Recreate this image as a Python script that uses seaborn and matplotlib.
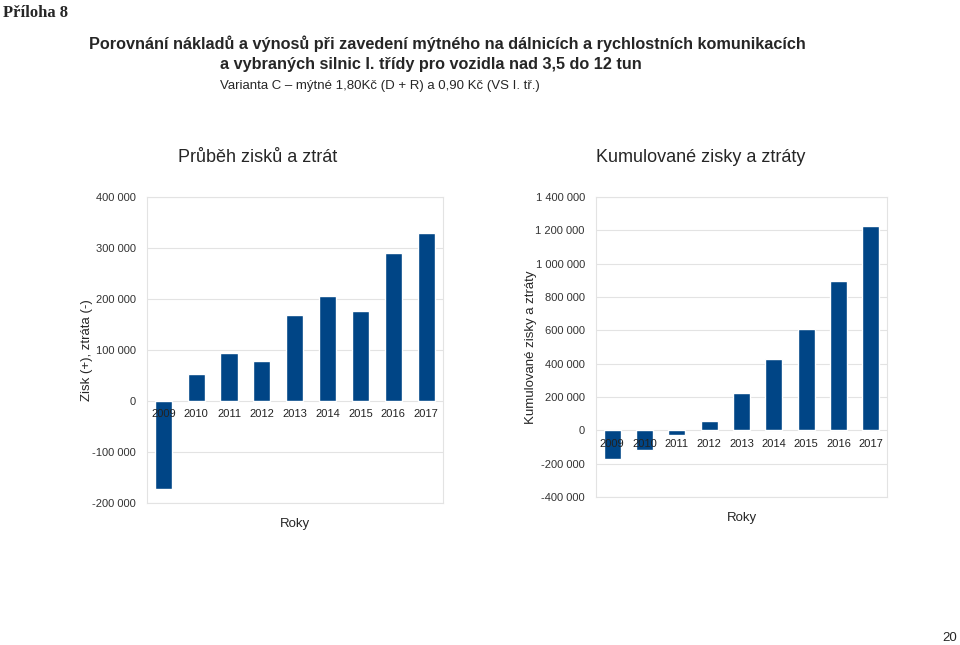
import matplotlib
matplotlib.use("Agg")
import matplotlib.pyplot as plt
import seaborn as sns
import pandas as pd

# data
years = ["2009", "2010", "2011", "2012", "2013", "2014", "2015", "2016", "2017"]
zisk = [-172500, 52300, 93500, 79100, 168600, 206500, 177100, 290200, 329400]
kumul = [-172000, -120000, -27000, 53000, 222000, 428000, 606000, 896000, 1226000]

left_ticks = [-200000, -100000, 0, 100000, 200000, 300000, 400000]
right_ticks = [-400000, -200000, 0, 200000, 400000, 600000, 800000, 1000000, 1200000, 1400000]

sns.set_style("white")
plt.rcParams["font.family"] = ["Liberation Sans", "DejaVu Sans"]

BLUE = "#004586"
GRID = "#e3e3e3"

fig = plt.figure(figsize=(9.6, 6.45), dpi=100)
ax1 = fig.add_axes([0.153, 0.2202, 0.308, 0.4744])
ax2 = fig.add_axes([0.6208, 0.2295, 0.3031, 0.4651])


def fmt(v):
    return f"{v:,}".replace(",", " ")


def draw(ax, vals, ticks, title, tx, ylabel):
    df = pd.DataFrame({"rok": years, "hodnota": vals})
    sns.barplot(data=df, x="rok", y="hodnota", color=BLUE, width=0.52,
                saturation=1, ax=ax, zorder=3)
    ax.set_ylim(ticks[0], ticks[-1])
    ax.set_xlim(-0.5, 8.5)
    ax.set_yticks(ticks)
    ax.set_yticklabels([fmt(t) for t in ticks], fontsize=8, color="#333333")
    ax.tick_params(axis="y", length=0, pad=8)
    ax.set_xticks([])
    ax.grid(axis="y", color=GRID, lw=0.8, zorder=0)
    for s in ax.spines.values():
        s.set_color(GRID)
        s.set_linewidth(0.8)
    # year labels sit on the zero line
    for i, y in enumerate(years):
        ax.annotate(y, (i, 0), xytext=(0, -6), textcoords="offset points",
                    ha="center", va="top", fontsize=8, color="#222222", zorder=5)
    ax.set_xlabel("Roky", fontsize=9.5, labelpad=11)
    ax.set_ylabel(ylabel, fontsize=9.5, labelpad=-1)
    ax.set_title(title, fontsize=13, pad=25, x=tx)


draw(ax1, zisk, left_ticks, "Průběh zisků a ztrát", 0.375, "Zisk (+), ztráta (-)")
draw(ax2, kumul, right_ticks, "Kumulované zisky a ztráty", 0.361, "Kumulované zisky a ztráty")

fig.text(0.003, 0.992, "Příloha 8", family="Liberation Serif", weight="bold",
         fontsize=12, ha="left", va="top")
fig.text(89 / 960, 1 - 44 / 645,
         "Porovnání nákladů a výnosů při zavedení mýtného na dálnicích a rychlostních komunikacích",
         weight="bold", fontsize=11.7, ha="left", va="center")
fig.text(220 / 960, 1 - 65 / 645,
         "a vybraných silnic I. třídy pro vozidla nad 3,5 do 12 tun",
         weight="bold", fontsize=11.7, ha="left", va="center")
fig.text(220 / 960, 1 - 86 / 645,
         "Varianta C – mýtné 1,80Kč (D + R) a 0,90 Kč (VS I. tř.)",
         fontsize=9.5, ha="left", va="center")
fig.text(950 / 960, 1 - 638 / 645, "20", fontsize=9.5, ha="center", va="center")

fig.savefig("out.png", dpi=100)
